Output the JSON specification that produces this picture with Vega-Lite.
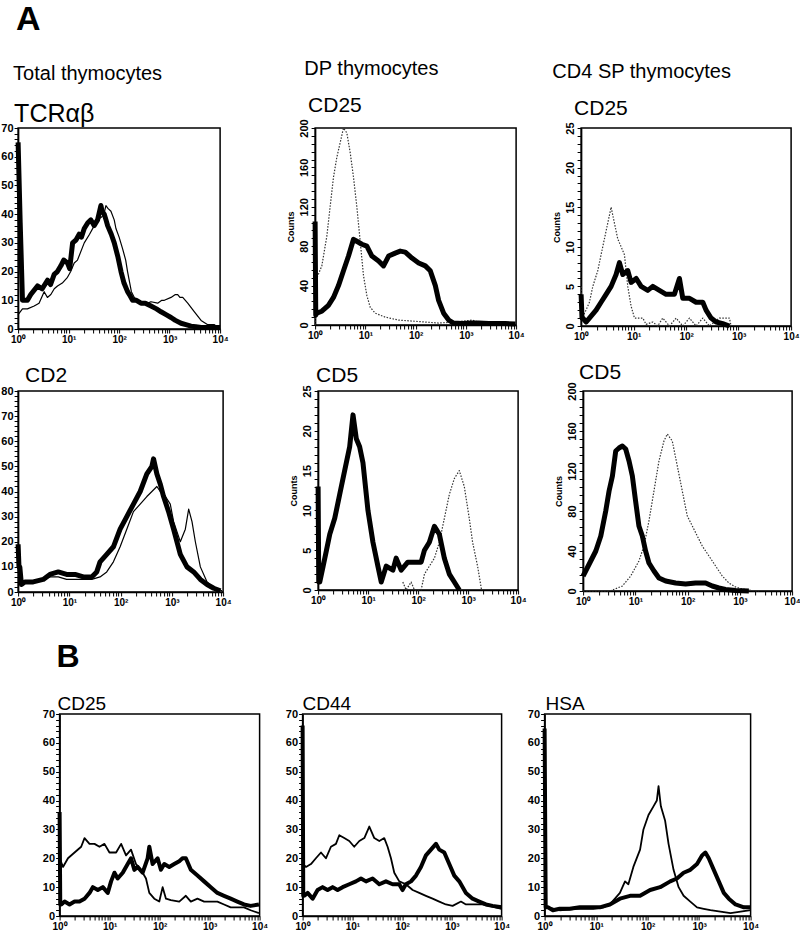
{
  "$schema": "https://vega.github.io/schema/vega-lite/v6.json",
  "background": "white",
  "padding": {"left": 0, "top": 3, "right": 0, "bottom": 0},
  "config": {
    "font": "Liberation Sans",
    "view": {"stroke": "black", "strokeWidth": 1.5, "fill": "white"},
    "axis": {"grid": false, "domainColor": "black", "domainWidth": 1.5, "tickColor": "black", "tickWidth": 1, "tickSize": 4, "labelFont": "Liberation Sans", "labelFontSize": 11, "labelFontWeight": "bold", "labelColor": "black", "labelPadding": 1, "labelOverlap": false, "labelFlush": false},
    "axisX": {"labelFontSize": 10},
    "title": {"anchor": "start", "frame": "group", "color": "black", "fontWeight": "normal", "fontSize": 21, "font": "Liberation Sans"},
    "line": {"clip": true, "strokeJoin": "round"}
  },
  "datasets": {
    "tcr_thin": [{"fl":1,"count":5},{"fl":1.22,"count":7},{"fl":1.53,"count":7},{"fl":2.08,"count":8},{"fl":2.6,"count":9},{"fl":3.28,"count":13},{"fl":3.8,"count":11},{"fl":4.45,"count":12},{"fl":5.2,"count":14},{"fl":6.03,"count":15},{"fl":7.5,"count":16},{"fl":9.5,"count":18},{"fl":11,"count":20},{"fl":12.9,"count":23},{"fl":15,"count":24},{"fl":20.4,"count":30},{"fl":26,"count":33},{"fl":32.2,"count":36},{"fl":37.5,"count":38},{"fl":45,"count":39},{"fl":50,"count":40},{"fl":54.8,"count":43},{"fl":60,"count":42},{"fl":68.9,"count":41},{"fl":80,"count":38},{"fl":86.5,"count":35},{"fl":100,"count":32},{"fl":117,"count":28},{"fl":135,"count":24},{"fl":147,"count":20},{"fl":175,"count":13},{"fl":200,"count":11},{"fl":271,"count":9},{"fl":367,"count":9},{"fl":428,"count":9.5},{"fl":580,"count":9},{"fl":700,"count":10},{"fl":787,"count":10},{"fl":1067,"count":11},{"fl":1300,"count":12},{"fl":1446,"count":12},{"fl":1600,"count":11},{"fl":1820,"count":11},{"fl":2285,"count":9},{"fl":3097,"count":6},{"fl":4200,"count":3},{"fl":5690,"count":1.5},{"fl":7720,"count":1.5},{"fl":10000,"count":0}],
    "tcr_thick": [{"fl":1,"count":65},{"fl":1.1,"count":37},{"fl":1.22,"count":10},{"fl":1.53,"count":10},{"fl":1.78,"count":12},{"fl":2.42,"count":15},{"fl":3.0,"count":14},{"fl":3.82,"count":17},{"fl":4.4,"count":15.5},{"fl":5.18,"count":19},{"fl":6,"count":20},{"fl":7.02,"count":22},{"fl":8,"count":24},{"fl":9.5,"count":23},{"fl":10.5,"count":21},{"fl":12,"count":30},{"fl":14,"count":31},{"fl":16.2,"count":33},{"fl":18,"count":32},{"fl":20.4,"count":35},{"fl":24,"count":37},{"fl":27.6,"count":38},{"fl":32,"count":36},{"fl":37.5,"count":38},{"fl":43.6,"count":43},{"fl":46,"count":41},{"fl":50.8,"count":40},{"fl":55,"count":38},{"fl":59.2,"count":36},{"fl":70,"count":33},{"fl":80.2,"count":30},{"fl":95,"count":25},{"fl":109,"count":20},{"fl":125,"count":16},{"fl":147,"count":13},{"fl":160,"count":12},{"fl":185,"count":10},{"fl":220,"count":10},{"fl":271,"count":9},{"fl":330,"count":9},{"fl":428,"count":8},{"fl":550,"count":7},{"fl":676,"count":6},{"fl":850,"count":5},{"fl":1067,"count":4},{"fl":1300,"count":3},{"fl":1683,"count":2},{"fl":2100,"count":1.5},{"fl":2660,"count":1},{"fl":3300,"count":0.8},{"fl":4200,"count":0.5},{"fl":7720,"count":0.5},{"fl":10000,"count":0.5}],
    "dp25_dot": [{"fl":1,"count":0},{"fl":1.03,"count":45},{"fl":1.36,"count":60},{"fl":1.71,"count":90},{"fl":1.99,"count":120},{"fl":2.32,"count":150},{"fl":2.7,"count":170},{"fl":3.15,"count":185},{"fl":3.67,"count":200},{"fl":4.28,"count":195},{"fl":4.99,"count":175},{"fl":5.81,"count":150},{"fl":6.77,"count":120},{"fl":7.89,"count":85},{"fl":9.19,"count":50},{"fl":10.7,"count":30},{"fl":12.5,"count":18},{"fl":15.7,"count":12},{"fl":24.8,"count":8},{"fl":45.8,"count":5},{"fl":84.5,"count":4},{"fl":156,"count":3},{"fl":287,"count":2},{"fl":618,"count":3},{"fl":1328,"count":5},{"fl":1803,"count":3},{"fl":2851,"count":2},{"fl":9700,"count":1}],
    "dp25_thick": [{"fl":1,"count":105},{"fl":1.03,"count":10},{"fl":1.08,"count":12},{"fl":1.36,"count":14},{"fl":1.84,"count":20},{"fl":2.32,"count":28},{"fl":2.92,"count":40},{"fl":3.67,"count":55},{"fl":4.62,"count":70},{"fl":5.81,"count":87},{"fl":6.77,"count":85},{"fl":8.51,"count":82},{"fl":10.7,"count":80},{"fl":13.5,"count":70},{"fl":18.3,"count":65},{"fl":23,"count":60},{"fl":29,"count":70},{"fl":39.3,"count":73},{"fl":49.5,"count":75},{"fl":62.2,"count":74},{"fl":84.5,"count":68},{"fl":115,"count":63},{"fl":156,"count":60},{"fl":196,"count":55},{"fl":247,"count":40},{"fl":287,"count":25},{"fl":361,"count":12},{"fl":455,"count":5},{"fl":572,"count":2},{"fl":839,"count":1.5},{"fl":1328,"count":2},{"fl":1803,"count":2},{"fl":2851,"count":1.5},{"fl":6120,"count":1.5},{"fl":9700,"count":1}],
    "sp25_dot": [{"fl":1,"count":5},{"fl":1.04,"count":1},{"fl":1.24,"count":2},{"fl":1.44,"count":3},{"fl":1.67,"count":5},{"fl":2.08,"count":7},{"fl":2.4,"count":9},{"fl":2.78,"count":11},{"fl":3.22,"count":13},{"fl":3.73,"count":15},{"fl":4.31,"count":13},{"fl":4.99,"count":11},{"fl":5.78,"count":10},{"fl":6.69,"count":9},{"fl":7.74,"count":5},{"fl":8.96,"count":2.5},{"fl":10.4,"count":1},{"fl":15,"count":1},{"fl":17.3,"count":0.2},{"fl":23.2,"count":0.5},{"fl":28.8,"count":0},{"fl":35.9,"count":1},{"fl":48.2,"count":0},{"fl":64.5,"count":1},{"fl":86.4,"count":0},{"fl":116,"count":1},{"fl":155,"count":0},{"fl":208,"count":1},{"fl":278,"count":0},{"fl":431,"count":1},{"fl":668,"count":1},{"fl":719,"count":0}],
    "sp25_thick": [{"fl":1,"count":4},{"fl":1.04,"count":1},{"fl":1.08,"count":1},{"fl":1.24,"count":0.5},{"fl":1.44,"count":1},{"fl":1.93,"count":2},{"fl":2.4,"count":3},{"fl":2.99,"count":4},{"fl":3.73,"count":5},{"fl":4.64,"count":6.5},{"fl":5.37,"count":8},{"fl":6.22,"count":6.5},{"fl":7.74,"count":7},{"fl":8.96,"count":5.5},{"fl":11.2,"count":6},{"fl":13.9,"count":5},{"fl":18.6,"count":4.5},{"fl":23.2,"count":5},{"fl":31,"count":4.5},{"fl":41.6,"count":4},{"fl":59.9,"count":4},{"fl":74.6,"count":6},{"fl":86.4,"count":3.5},{"fl":116,"count":3.5},{"fl":155,"count":3},{"fl":208,"count":3},{"fl":240,"count":2},{"fl":299,"count":1},{"fl":373,"count":0.5},{"fl":499,"count":0.3},{"fl":668,"count":0}],
    "cd2_thin": [{"fl":1,"count":3},{"fl":1.35,"count":4},{"fl":1.97,"count":4},{"fl":3.09,"count":5},{"fl":4.17,"count":6},{"fl":6.07,"count":6},{"fl":8.83,"count":5},{"fl":12.9,"count":5},{"fl":18.7,"count":5},{"fl":27.3,"count":5},{"fl":39.7,"count":6},{"fl":53.6,"count":8},{"fl":72.4,"count":12},{"fl":97.8,"count":18},{"fl":132,"count":25},{"fl":178,"count":32},{"fl":241,"count":35},{"fl":325,"count":38},{"fl":408,"count":40},{"fl":510,"count":42},{"fl":593,"count":40},{"fl":750,"count":38},{"fl":931,"count":35},{"fl":1082,"count":28},{"fl":1462,"count":20},{"fl":1832,"count":25},{"fl":2128,"count":33},{"fl":2472,"count":28},{"fl":2873,"count":20},{"fl":3598,"count":10},{"fl":4863,"count":4},{"fl":6563,"count":1.5},{"fl":9550,"count":0.5}],
    "cd2_thick": [{"fl":1,"count":19},{"fl":1.04,"count":10},{"fl":1.08,"count":10},{"fl":1.16,"count":3},{"fl":1.35,"count":4},{"fl":1.97,"count":4},{"fl":3.09,"count":5},{"fl":4.17,"count":7},{"fl":6.07,"count":8},{"fl":8.83,"count":7},{"fl":12.9,"count":7},{"fl":18.7,"count":6},{"fl":27.3,"count":6},{"fl":34.2,"count":8},{"fl":39.7,"count":12},{"fl":53.6,"count":15},{"fl":72.4,"count":18},{"fl":97.8,"count":25},{"fl":132,"count":30},{"fl":178,"count":35},{"fl":241,"count":40},{"fl":325,"count":47},{"fl":408,"count":50},{"fl":439,"count":53},{"fl":510,"count":47},{"fl":593,"count":43},{"fl":689,"count":38},{"fl":863,"count":32},{"fl":1082,"count":25},{"fl":1462,"count":15},{"fl":1973,"count":10},{"fl":2667,"count":8},{"fl":3598,"count":5},{"fl":4863,"count":3},{"fl":6563,"count":1.5},{"fl":8872,"count":0.5}],
    "dp5_dot": [{"fl":49.5,"count":1},{"fl":57.6,"count":0},{"fl":72.5,"count":1},{"fl":84.5,"count":0},{"fl":115,"count":0},{"fl":134,"count":2},{"fl":168,"count":3},{"fl":212,"count":4},{"fl":266,"count":6},{"fl":335,"count":9},{"fl":421,"count":12},{"fl":530,"count":14},{"fl":667,"count":15},{"fl":839,"count":13},{"fl":1055,"count":9},{"fl":1230,"count":6},{"fl":1546,"count":3},{"fl":1858,"count":0}],
    "dp5_thick": [{"fl":1,"count":13},{"fl":1.03,"count":1},{"fl":1.08,"count":1},{"fl":1.26,"count":3},{"fl":1.47,"count":5},{"fl":1.71,"count":7},{"fl":2.15,"count":9},{"fl":2.7,"count":12},{"fl":3.4,"count":15},{"fl":4.28,"count":18},{"fl":4.99,"count":22},{"fl":5.81,"count":19},{"fl":6.77,"count":18},{"fl":7.89,"count":16},{"fl":9.93,"count":10},{"fl":12.5,"count":6},{"fl":15.7,"count":3},{"fl":18.3,"count":1},{"fl":23,"count":3},{"fl":31.3,"count":2.5},{"fl":36.4,"count":4},{"fl":45.8,"count":2.5},{"fl":62.2,"count":3.5},{"fl":84.5,"count":3.5},{"fl":115,"count":3.5},{"fl":134,"count":5},{"fl":168,"count":6},{"fl":212,"count":8},{"fl":266,"count":7},{"fl":335,"count":4},{"fl":421,"count":2},{"fl":530,"count":1},{"fl":667,"count":0}],
    "sp5_dot": [{"fl":1,"count":0},{"fl":3.14,"count":0},{"fl":3.64,"count":1},{"fl":5.65,"count":5},{"fl":8.15,"count":15},{"fl":11.7,"count":30},{"fl":14.6,"count":45},{"fl":18.2,"count":70},{"fl":22.7,"count":100},{"fl":28.3,"count":130},{"fl":35.3,"count":150},{"fl":40.9,"count":157},{"fl":50.9,"count":150},{"fl":63.5,"count":125},{"fl":79.1,"count":100},{"fl":98.6,"count":75},{"fl":123,"count":65},{"fl":153,"count":55},{"fl":191,"count":45},{"fl":256,"count":35},{"fl":343,"count":25},{"fl":460,"count":15},{"fl":617,"count":8},{"fl":826,"count":4},{"fl":1109,"count":2},{"fl":1722,"count":0.5},{"fl":2307,"count":0}],
    "sp5_thick": [{"fl":1,"count":15},{"fl":1.12,"count":20},{"fl":1.4,"count":30},{"fl":1.75,"count":40},{"fl":2.18,"count":55},{"fl":2.71,"count":80},{"fl":3.14,"count":100},{"fl":3.64,"count":115},{"fl":4.21,"count":140},{"fl":4.87,"count":143},{"fl":5.65,"count":145},{"fl":6.53,"count":142},{"fl":7.57,"count":130},{"fl":8.76,"count":115},{"fl":10.1,"count":90},{"fl":11.7,"count":65},{"fl":13.6,"count":55},{"fl":15.7,"count":40},{"fl":18.2,"count":28},{"fl":22.7,"count":20},{"fl":28.3,"count":13},{"fl":38,"count":10},{"fl":59,"count":8},{"fl":91.6,"count":7},{"fl":142,"count":8},{"fl":221,"count":8},{"fl":296,"count":5},{"fl":397,"count":3},{"fl":532,"count":1.5},{"fl":826,"count":0.5},{"fl":1486,"count":0}],
    "b25_thin": [{"fl":1,"count":20},{"fl":1.17,"count":17},{"fl":1.47,"count":20},{"fl":1.99,"count":22},{"fl":2.7,"count":24},{"fl":3.15,"count":27},{"fl":3.96,"count":25},{"fl":4.99,"count":25},{"fl":6.27,"count":24},{"fl":7.89,"count":25},{"fl":9.93,"count":22},{"fl":13.5,"count":22},{"fl":17,"count":25},{"fl":21.3,"count":21},{"fl":26.8,"count":23},{"fl":33.7,"count":18},{"fl":42.5,"count":16},{"fl":53.4,"count":13},{"fl":62.2,"count":8},{"fl":78.3,"count":6},{"fl":98.5,"count":5},{"fl":115,"count":10},{"fl":134,"count":6},{"fl":168,"count":5.5},{"fl":247,"count":5},{"fl":335,"count":7},{"fl":421,"count":5},{"fl":572,"count":6},{"fl":777,"count":5},{"fl":1055,"count":5},{"fl":1432,"count":5},{"fl":1945,"count":4},{"fl":2640,"count":3},{"fl":3585,"count":3},{"fl":4870,"count":3},{"fl":6620,"count":2},{"fl":9700,"count":1}],
    "b25_thick": [{"fl":1,"count":36},{"fl":1.03,"count":4},{"fl":1.08,"count":4},{"fl":1.26,"count":5},{"fl":1.58,"count":4},{"fl":1.99,"count":5},{"fl":2.5,"count":5},{"fl":3.15,"count":6},{"fl":3.96,"count":8},{"fl":4.62,"count":10},{"fl":5.81,"count":9},{"fl":7.31,"count":10},{"fl":9.19,"count":8},{"fl":10.7,"count":12},{"fl":12.5,"count":15},{"fl":14.5,"count":13},{"fl":18.3,"count":15},{"fl":23,"count":18},{"fl":26.8,"count":20},{"fl":31.3,"count":16},{"fl":36.4,"count":17},{"fl":45.8,"count":15},{"fl":57.6,"count":20},{"fl":62.2,"count":24},{"fl":72.5,"count":18},{"fl":91.2,"count":20},{"fl":106,"count":16},{"fl":124,"count":18},{"fl":156,"count":17},{"fl":196,"count":18},{"fl":247,"count":19},{"fl":287,"count":20},{"fl":335,"count":20},{"fl":421,"count":16},{"fl":572,"count":14},{"fl":777,"count":12},{"fl":1055,"count":10},{"fl":1432,"count":8},{"fl":1945,"count":7},{"fl":2640,"count":6},{"fl":3585,"count":5},{"fl":4870,"count":4},{"fl":6620,"count":3.5},{"fl":9700,"count":4}],
    "b44_thin": [{"fl":1,"count":18},{"fl":1.17,"count":17},{"fl":1.47,"count":18},{"fl":1.85,"count":20},{"fl":2.34,"count":22},{"fl":2.94,"count":20},{"fl":3.71,"count":24},{"fl":4.68,"count":25},{"fl":5.46,"count":28},{"fl":6.88,"count":27},{"fl":8.67,"count":26},{"fl":10.9,"count":24},{"fl":13.8,"count":26},{"fl":17.4,"count":27},{"fl":21.9,"count":31},{"fl":27.6,"count":27},{"fl":34.8,"count":26},{"fl":43.8,"count":27},{"fl":51.1,"count":24},{"fl":59.7,"count":20},{"fl":69.6,"count":15},{"fl":87.7,"count":12},{"fl":119,"count":11},{"fl":163,"count":9},{"fl":221,"count":8},{"fl":301,"count":7},{"fl":410,"count":6},{"fl":558,"count":5},{"fl":760,"count":4},{"fl":1035,"count":3.5},{"fl":1524,"count":5},{"fl":1919,"count":4},{"fl":2612,"count":4},{"fl":4150,"count":4},{"fl":5650,"count":3.5},{"fl":10000,"count":2.5}],
    "b44_thick": [{"fl":1,"count":66},{"fl":1.03,"count":7},{"fl":1.08,"count":7},{"fl":1.26,"count":8},{"fl":1.59,"count":6},{"fl":2.0,"count":9},{"fl":2.52,"count":10},{"fl":3.18,"count":9},{"fl":4.01,"count":10},{"fl":5.05,"count":9},{"fl":6.37,"count":10},{"fl":8.67,"count":11},{"fl":11.8,"count":12},{"fl":14.9,"count":13},{"fl":18.8,"count":12},{"fl":25.5,"count":13},{"fl":34.8,"count":11},{"fl":47.3,"count":12},{"fl":64.4,"count":11},{"fl":87.7,"count":11},{"fl":102,"count":9},{"fl":119,"count":11},{"fl":151,"count":12},{"fl":190,"count":14},{"fl":239,"count":17},{"fl":301,"count":21},{"fl":380,"count":23},{"fl":479,"count":25},{"fl":558,"count":23},{"fl":704,"count":22},{"fl":887,"count":18},{"fl":1119,"count":14},{"fl":1409,"count":12},{"fl":1919,"count":8},{"fl":2612,"count":6},{"fl":3556,"count":5},{"fl":4842,"count":4},{"fl":6590,"count":3.5},{"fl":10000,"count":3}],
    "hsa_thin": [{"fl":1,"count":3},{"fl":1.16,"count":3},{"fl":1.96,"count":2},{"fl":4.15,"count":2.5},{"fl":8.77,"count":2.5},{"fl":13.7,"count":3},{"fl":18.5,"count":4},{"fl":23.2,"count":6},{"fl":29,"count":8},{"fl":36.4,"count":12},{"fl":42.3,"count":11},{"fl":52.9,"count":17},{"fl":71.4,"count":23},{"fl":83,"count":30},{"fl":104,"count":35},{"fl":130,"count":38},{"fl":151,"count":40},{"fl":163,"count":45},{"fl":181,"count":38},{"fl":219,"count":33},{"fl":255,"count":25},{"fl":319,"count":16},{"fl":400,"count":10},{"fl":500,"count":7},{"fl":675,"count":5},{"fl":911,"count":3},{"fl":1228,"count":2.5},{"fl":1660,"count":2},{"fl":2600,"count":1.5},{"fl":4075,"count":1},{"fl":6380,"count":1.5},{"fl":10000,"count":2}],
    "hsa_thick": [{"fl":1,"count":65},{"fl":1.05,"count":3},{"fl":1.16,"count":3},{"fl":1.45,"count":2},{"fl":1.96,"count":2.5},{"fl":3.07,"count":2.5},{"fl":4.82,"count":3},{"fl":7.55,"count":3},{"fl":11.8,"count":3},{"fl":18.5,"count":4},{"fl":29,"count":6},{"fl":45.6,"count":7},{"fl":71.4,"count":7},{"fl":112,"count":9},{"fl":175,"count":10},{"fl":275,"count":12},{"fl":371,"count":13},{"fl":500,"count":15},{"fl":675,"count":16},{"fl":911,"count":18},{"fl":1140,"count":21},{"fl":1324,"count":22},{"fl":1538,"count":20},{"fl":1927,"count":16},{"fl":2411,"count":12},{"fl":3017,"count":8},{"fl":3776,"count":6},{"fl":5097,"count":4},{"fl":7413,"count":3},{"fl":10000,"count":3}]
  },
  "vconcat": [
    {
      "vconcat": [
        {
          "title": {"text": "A", "fontSize": 34, "fontWeight": "bold", "frame": "bounds", "dx": 16, "offset": 22},
          "spacing": 56,
          "hconcat": [
            {
              "title": {"text": "Total thymocytes", "fontSize": 20, "frame": "bounds", "dx": 13, "offset": 17},
              "vconcat": [
                {
                  "width": 202, "height": 201,
                  "title": {"text": "TCRαβ", "fontSize": 25, "dx": -4, "offset": -5},
                  "encoding": {
                    "x": {"field": "fl", "type": "quantitative", "scale": {"type": "log", "domain": [1, 10000], "nice": false}, "axis": {"title": null, "values": [1,2,3,4,5,6,7,8,9,10,20,30,40,50,60,70,80,90,100,200,300,400,500,600,700,800,900,1000,2000,3000,4000,5000,6000,7000,8000,9000,10000], "labelExpr": "datum.value == 1 ? '10⁰' : datum.value == 10 ? '10¹' : datum.value == 100 ? '10²' : datum.value == 1000 ? '10³' : datum.value == 10000 ? '10⁴' : ''"}},
                    "y": {"field": "count", "type": "quantitative", "scale": {"domain": [0, 70], "nice": false}, "axis": {"title": null, "values": [0,2,4,6,8,10,12,14,16,18,20,22,24,26,28,30,32,34,36,38,40,42,44,46,48,50,52,54,56,58,60,62,64,66,68,70], "labelExpr": "datum.value % 10 == 0 ? datum.label : ''"}}
                  },
                  "layer": [
                    {"data": {"name": "tcr_thin"}, "mark": {"type": "line", "color": "black", "strokeWidth": 1.2}},
                    {"data": {"name": "tcr_thick"}, "mark": {"type": "line", "color": "black", "strokeWidth": 5}}
                  ]
                }
              ]
            },
            {
              "spacing": 26,
              "hconcat": [
                {
                  "title": {"text": "DP thymocytes", "fontSize": 20, "frame": "bounds", "dx": 19, "offset": 15},
                  "vconcat": [
                    {
                      "width": 201, "height": 197,
                      "title": {"text": "CD25", "dx": -7, "offset": 3},
                      "encoding": {
                        "x": {"field": "fl", "type": "quantitative", "scale": {"type": "log", "domain": [1, 10000], "nice": false}, "axis": {"title": null, "values": [1,2,3,4,5,6,7,8,9,10,20,30,40,50,60,70,80,90,100,200,300,400,500,600,700,800,900,1000,2000,3000,4000,5000,6000,7000,8000,9000,10000], "labelExpr": "datum.value == 1 ? '10⁰' : datum.value == 10 ? '10¹' : datum.value == 100 ? '10²' : datum.value == 1000 ? '10³' : datum.value == 10000 ? '10⁴' : ''"}},
                        "y": {"field": "count", "type": "quantitative", "scale": {"domain": [0, 200], "nice": false}, "axis": {"title": "Counts", "titleFontSize": 9, "titleFontWeight": "bold", "titlePadding": 3, "labelAngle": 270, "labelAlign": "center", "labelBaseline": "bottom", "labelPadding": 2, "values": [0,8,16,24,32,40,48,56,64,72,80,88,96,104,112,120,128,136,144,152,160,168,176,184,192,200], "labelExpr": "datum.value % 40 == 0 ? datum.label : ''"}}
                      },
                      "layer": [
                        {"data": {"name": "dp25_dot"}, "mark": {"type": "line", "color": "#333", "strokeWidth": 1.2, "strokeDash": [1.5, 1.5]}},
                        {"data": {"name": "dp25_thick"}, "mark": {"type": "line", "color": "black", "strokeWidth": 5}}
                      ]
                    }
                  ]
                },
                {
                  "title": {"text": "CD4 SP thymocytes", "fontSize": 20, "frame": "bounds", "dx": 1, "offset": 15},
                  "vconcat": [
                    {
                      "width": 210, "height": 198,
                      "title": {"text": "CD25", "dx": -7, "offset": 3},
                      "encoding": {
                        "x": {"field": "fl", "type": "quantitative", "scale": {"type": "log", "domain": [1, 10000], "nice": false}, "axis": {"title": null, "values": [1,2,3,4,5,6,7,8,9,10,20,30,40,50,60,70,80,90,100,200,300,400,500,600,700,800,900,1000,2000,3000,4000,5000,6000,7000,8000,9000,10000], "labelExpr": "datum.value == 1 ? '10⁰' : datum.value == 10 ? '10¹' : datum.value == 100 ? '10²' : datum.value == 1000 ? '10³' : datum.value == 10000 ? '10⁴' : ''"}},
                        "y": {"field": "count", "type": "quantitative", "scale": {"domain": [0, 25], "nice": false}, "axis": {"title": "Counts", "titleFontSize": 9, "titleFontWeight": "bold", "titlePadding": 3, "labelAngle": 270, "labelAlign": "center", "labelBaseline": "bottom", "labelPadding": 2, "values": [0,1,2,3,4,5,6,7,8,9,10,11,12,13,14,15,16,17,18,19,20,21,22,23,24,25], "labelExpr": "datum.value % 5 == 0 ? datum.label : ''"}}
                      },
                      "layer": [
                        {"data": {"name": "sp25_dot"}, "mark": {"type": "line", "color": "#333", "strokeWidth": 1.2, "strokeDash": [1.5, 1.5]}},
                        {"data": {"name": "sp25_thick"}, "mark": {"type": "line", "color": "black", "strokeWidth": 5}}
                      ]
                    }
                  ]
                }
              ]
            }
          ]
        },
        {
          "spacing": 56,
          "hconcat": [
            {
              "width": 205, "height": 201,
              "title": {"text": "CD2", "dx": 7, "offset": -1},
              "encoding": {
                "x": {"field": "fl", "type": "quantitative", "scale": {"type": "log", "domain": [1, 10000], "nice": false}, "axis": {"title": null, "values": [1,2,3,4,5,6,7,8,9,10,20,30,40,50,60,70,80,90,100,200,300,400,500,600,700,800,900,1000,2000,3000,4000,5000,6000,7000,8000,9000,10000], "labelExpr": "datum.value == 1 ? '10⁰' : datum.value == 10 ? '10¹' : datum.value == 100 ? '10²' : datum.value == 1000 ? '10³' : datum.value == 10000 ? '10⁴' : ''"}},
                "y": {"field": "count", "type": "quantitative", "scale": {"domain": [0, 80], "nice": false}, "axis": {"title": null, "values": [0,2,4,6,8,10,12,14,16,18,20,22,24,26,28,30,32,34,36,38,40,42,44,46,48,50,52,54,56,58,60,62,64,66,68,70,72,74,76,78,80], "labelExpr": "datum.value % 10 == 0 ? datum.label : ''"}}
              },
              "layer": [
                {"data": {"name": "cd2_thin"}, "mark": {"type": "line", "color": "black", "strokeWidth": 1.2}},
                {"data": {"name": "cd2_thick"}, "mark": {"type": "line", "color": "black", "strokeWidth": 5}}
              ]
            },
            {
              "spacing": 26,
              "hconcat": [
                {
                  "width": 200, "height": 199,
                  "title": {"text": "CD5", "dx": -2, "offset": -1},
                  "encoding": {
                    "x": {"field": "fl", "type": "quantitative", "scale": {"type": "log", "domain": [1, 10000], "nice": false}, "axis": {"title": null, "values": [1,2,3,4,5,6,7,8,9,10,20,30,40,50,60,70,80,90,100,200,300,400,500,600,700,800,900,1000,2000,3000,4000,5000,6000,7000,8000,9000,10000], "labelExpr": "datum.value == 1 ? '10⁰' : datum.value == 10 ? '10¹' : datum.value == 100 ? '10²' : datum.value == 1000 ? '10³' : datum.value == 10000 ? '10⁴' : ''"}},
                    "y": {"field": "count", "type": "quantitative", "scale": {"domain": [0, 25], "nice": false}, "axis": {"title": "Counts", "titleFontSize": 9, "titleFontWeight": "bold", "titlePadding": 3, "labelAngle": 270, "labelAlign": "center", "labelBaseline": "bottom", "labelPadding": 2, "values": [0,1,2,3,4,5,6,7,8,9,10,11,12,13,14,15,16,17,18,19,20,21,22,23,24,25], "labelExpr": "datum.value % 5 == 0 ? datum.label : ''"}}
                  },
                  "layer": [
                    {"data": {"name": "dp5_dot"}, "mark": {"type": "line", "color": "#333", "strokeWidth": 1.2, "strokeDash": [1.5, 1.5]}},
                    {"data": {"name": "dp5_thick"}, "mark": {"type": "line", "color": "black", "strokeWidth": 5}}
                  ]
                },
                {
                  "width": 209, "height": 200,
                  "title": {"text": "CD5", "dx": -4, "offset": -1},
                  "encoding": {
                    "x": {"field": "fl", "type": "quantitative", "scale": {"type": "log", "domain": [1, 10000], "nice": false}, "axis": {"title": null, "values": [1,2,3,4,5,6,7,8,9,10,20,30,40,50,60,70,80,90,100,200,300,400,500,600,700,800,900,1000,2000,3000,4000,5000,6000,7000,8000,9000,10000], "labelExpr": "datum.value == 1 ? '10⁰' : datum.value == 10 ? '10¹' : datum.value == 100 ? '10²' : datum.value == 1000 ? '10³' : datum.value == 10000 ? '10⁴' : ''"}},
                    "y": {"field": "count", "type": "quantitative", "scale": {"domain": [0, 200], "nice": false}, "axis": {"title": "Counts", "titleFontSize": 9, "titleFontWeight": "bold", "titlePadding": 3, "labelAngle": 270, "labelAlign": "center", "labelBaseline": "bottom", "labelPadding": 2, "values": [0,8,16,24,32,40,48,56,64,72,80,88,96,104,112,120,128,136,144,152,160,168,176,184,192,200], "labelExpr": "datum.value % 40 == 0 ? datum.label : ''"}}
                  },
                  "layer": [
                    {"data": {"name": "sp5_dot"}, "mark": {"type": "line", "color": "#333", "strokeWidth": 1.2, "strokeDash": [1.5, 1.5]}},
                    {"data": {"name": "sp5_thick"}, "mark": {"type": "line", "color": "black", "strokeWidth": 5}}
                  ]
                }
              ]
            }
          ]
        }
      ],
      "spacing": 16
    },
    {
      "title": {"text": "B", "fontSize": 32, "fontWeight": "bold", "frame": "bounds", "dx": 15, "offset": 20},
      "spacing": 16,
      "hconcat": [
        {
          "width": 200, "height": 202,
          "title": {"text": "CD25", "fontSize": 19, "dx": -2, "offset": -6},
          "encoding": {
            "x": {"field": "fl", "type": "quantitative", "scale": {"type": "log", "domain": [1, 10000], "nice": false}, "axis": {"title": null, "values": [1,2,3,4,5,6,7,8,9,10,20,30,40,50,60,70,80,90,100,200,300,400,500,600,700,800,900,1000,2000,3000,4000,5000,6000,7000,8000,9000,10000], "labelExpr": "datum.value == 1 ? '10⁰' : datum.value == 10 ? '10¹' : datum.value == 100 ? '10²' : datum.value == 1000 ? '10³' : datum.value == 10000 ? '10⁴' : ''"}},
            "y": {"field": "count", "type": "quantitative", "scale": {"domain": [0, 70], "nice": false}, "axis": {"title": null, "values": [0,2,4,6,8,10,12,14,16,18,20,22,24,26,28,30,32,34,36,38,40,42,44,46,48,50,52,54,56,58,60,62,64,66,68,70], "labelExpr": "datum.value % 10 == 0 ? datum.label : ''"}}
          },
          "layer": [
            {"data": {"name": "b25_thin"}, "mark": {"type": "line", "color": "black", "strokeWidth": 1.8}},
            {"data": {"name": "b25_thick"}, "mark": {"type": "line", "color": "black", "strokeWidth": 4}}
          ]
        },
        {
          "width": 199, "height": 202,
          "title": {"text": "CD44", "fontSize": 19, "dx": 0, "offset": -6},
          "encoding": {
            "x": {"field": "fl", "type": "quantitative", "scale": {"type": "log", "domain": [1, 10000], "nice": false}, "axis": {"title": null, "values": [1,2,3,4,5,6,7,8,9,10,20,30,40,50,60,70,80,90,100,200,300,400,500,600,700,800,900,1000,2000,3000,4000,5000,6000,7000,8000,9000,10000], "labelExpr": "datum.value == 1 ? '10⁰' : datum.value == 10 ? '10¹' : datum.value == 100 ? '10²' : datum.value == 1000 ? '10³' : datum.value == 10000 ? '10⁴' : ''"}},
            "y": {"field": "count", "type": "quantitative", "scale": {"domain": [0, 70], "nice": false}, "axis": {"title": null, "values": [0,2,4,6,8,10,12,14,16,18,20,22,24,26,28,30,32,34,36,38,40,42,44,46,48,50,52,54,56,58,60,62,64,66,68,70], "labelExpr": "datum.value % 10 == 0 ? datum.label : ''"}}
          },
          "layer": [
            {"data": {"name": "b44_thin"}, "mark": {"type": "line", "color": "black", "strokeWidth": 1.8}},
            {"data": {"name": "b44_thick"}, "mark": {"type": "line", "color": "black", "strokeWidth": 4}}
          ]
        },
        {
          "width": 206, "height": 202,
          "title": {"text": "HSA", "fontSize": 19, "dx": 1, "offset": -6},
          "encoding": {
            "x": {"field": "fl", "type": "quantitative", "scale": {"type": "log", "domain": [1, 10000], "nice": false}, "axis": {"title": null, "values": [1,2,3,4,5,6,7,8,9,10,20,30,40,50,60,70,80,90,100,200,300,400,500,600,700,800,900,1000,2000,3000,4000,5000,6000,7000,8000,9000,10000], "labelExpr": "datum.value == 1 ? '10⁰' : datum.value == 10 ? '10¹' : datum.value == 100 ? '10²' : datum.value == 1000 ? '10³' : datum.value == 10000 ? '10⁴' : ''"}},
            "y": {"field": "count", "type": "quantitative", "scale": {"domain": [0, 70], "nice": false}, "axis": {"title": null, "values": [0,2,4,6,8,10,12,14,16,18,20,22,24,26,28,30,32,34,36,38,40,42,44,46,48,50,52,54,56,58,60,62,64,66,68,70], "labelExpr": "datum.value % 10 == 0 ? datum.label : ''"}}
          },
          "layer": [
            {"data": {"name": "hsa_thin"}, "mark": {"type": "line", "color": "black", "strokeWidth": 1.8}},
            {"data": {"name": "hsa_thick"}, "mark": {"type": "line", "color": "black", "strokeWidth": 4}}
          ]
        }
      ]
    }
  ],
  "spacing": 33,
  "center": true
}
